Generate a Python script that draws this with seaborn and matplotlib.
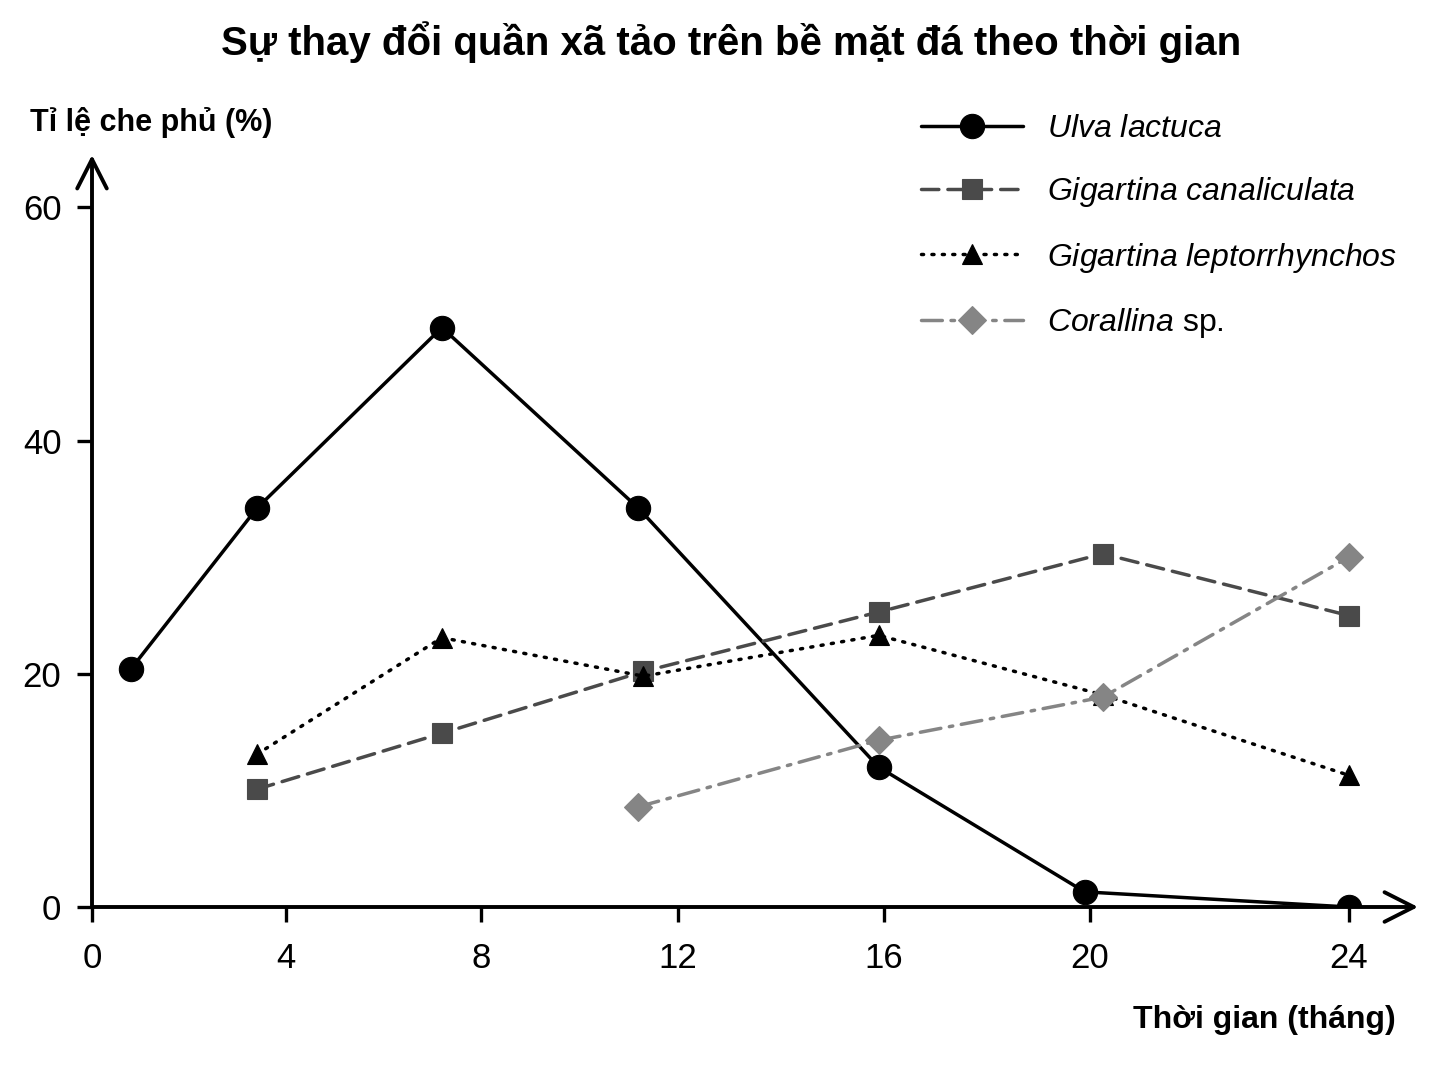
import matplotlib
matplotlib.use("Agg")
import matplotlib.pyplot as plt
import seaborn as sns
import numpy as np
import pandas as pd

# dữ liệu
species = ["Ulva lactuca", "Gigartina canaliculata",
           "Gigartina leptorrhynchos", "Corallina sp."]
ulva_month = [0.8, 3.4, 7.2, 11.2, 15.9, 19.9, 24]
ulva_cover = [20.4, 34.2, 49.7, 34.2, 12.0, 1.3, 0.0]
canal_month = [3.4, 7.2, 11.3, 15.9, 20.2, 24]
canal_cover = [10.1, 14.9, 20.2, 25.3, 30.3, 25.0]
lepto_month = [3.4, 7.2, 11.3, 15.9, 20.2, 24]
lepto_cover = [13.1, 23.1, 19.8, 23.3, 18.2, 11.3]
coral_month = [11.2, 15.9, 20.2, 24]
coral_cover = [8.6, 14.3, 18.0, 30.0]
x_ticks = [0, 4, 8, 12, 16, 20, 24]
y_ticks = [0, 20, 40, 60]

sns.set_theme(style="white")
plt.rcParams["font.family"] = ["Liberation Sans", "DejaVu Sans"]
plt.rcParams["text.color"] = "black"
plt.rcParams["xtick.color"] = "black"
plt.rcParams["ytick.color"] = "black"
plt.rcParams["mathtext.fontset"] = "custom"
plt.rcParams["mathtext.it"] = "Liberation Sans:italic"
plt.rcParams["mathtext.rm"] = "Liberation Sans"

df = pd.concat([
    pd.DataFrame({"month": ulva_month, "cover": ulva_cover, "sp": species[0]}),
    pd.DataFrame({"month": canal_month, "cover": canal_cover, "sp": species[1]}),
    pd.DataFrame({"month": lepto_month, "cover": lepto_cover, "sp": species[2]}),
    pd.DataFrame({"month": coral_month, "cover": coral_cover, "sp": species[3]}),
])

palette = {species[0]: "#000000", species[1]: "#4a4a4a",
           species[2]: "#000000", species[3]: "#858585"}
markers = {species[0]: "o", species[1]: "s", species[2]: "^", species[3]: "D"}
dashes = {species[0]: "", species[1]: (5, 2.6), species[2]: (0.6, 2.4),
          species[3]: (6, 2.5, 1.0, 2.5)}

fig = plt.figure(figsize=(14.48, 10.86), dpi=100)
ax = fig.add_axes([92/1448, 179/1086, (1418-92)/1448, (907-155)/1086])

# trục thời gian của hình gốc không đều -> dùng thang đo hàm từng khúc
knots_m = [-4, 0, 4, 8, 12, 16, 20, 24, 28]
knots_p = [-102, 92, 286, 481, 678, 884, 1090, 1349, 1608]
ax.set_xscale("function", functions=(lambda v: np.interp(v, knots_m, knots_p),
                                     lambda v: np.interp(v, knots_p, knots_m)))

sns.lineplot(data=df, x="month", y="cover", hue="sp", style="sp",
             palette=palette, markers=markers, dashes=dashes,
             linewidth=2.5, markersize=15,
             legend=False, ax=ax, errorbar=None, sort=False, zorder=3)

# chỉnh kích thước marker riêng
sizes = {"o": 17.5, "s": 14, "^": 14, "D": 14.5}
for ln in ax.lines:
    m = ln.get_marker()
    if m in sizes:
        ln.set_markersize(sizes[m])
    ln.set_markeredgecolor(ln.get_color())
    ln.set_markeredgewidth(0.8)
    ln.set_dash_capstyle("round")

ax.set_xlim(0, 25.07)
ax.set_ylim(0, 64.5)
ax.set_xticks(x_ticks)
ax.set_yticks(y_ticks)
ax.set_xlabel("")
ax.set_ylabel("")
for s in ax.spines.values():
    s.set_visible(False)
ax.tick_params(axis="both", direction="out", length=11, width=2.4,
               labelsize=25, bottom=True, left=True)
ax.tick_params(axis="x", pad=14)
ax.tick_params(axis="y", pad=11)

arrow = dict(arrowstyle="->,head_length=0.75,head_width=0.38", lw=2.8,
             color="black", mutation_scale=28, shrinkA=0, shrinkB=0)
ax.annotate("", xy=(1, 0), xytext=(0, 0), xycoords="axes fraction",
            arrowprops=arrow, annotation_clip=False)
ax.annotate("", xy=(0, 1), xytext=(0, 0), xycoords="axes fraction",
            arrowprops=arrow, annotation_clip=False)

labels = [r"$\mathit{Ulva\ lactuca}$", r"$\mathit{Gigartina\ canaliculata}$",
          r"$\mathit{Gigartina\ leptorrhynchos}$", r"$\mathit{Corallina}$ sp."]
ax.legend(ax.lines[:4], labels, loc="upper left",
          bbox_to_anchor=(921/1448, 1 - 114/1086), bbox_transform=fig.transFigure,
          frameon=False, fontsize=23, handlelength=3.2, handletextpad=0.75,
          labelspacing=0.98, borderaxespad=0, borderpad=0)

fig.text(0.505, 1 - 42/1086, "Sự thay đổi quần xã tảo trên bề mặt đá theo thời gian",
         ha="center", va="center", fontsize=29, fontweight="bold")
fig.text(30/1448, 1 - 122/1086, "Tỉ lệ che phủ (%)", ha="left", va="center",
         fontsize=22, fontweight="bold")
fig.text(1396/1448, 1 - 1020/1086, "Thời gian (tháng)", ha="right", va="center",
         fontsize=23, fontweight="bold")

fig.savefig("out.png", dpi=100, facecolor="white")
